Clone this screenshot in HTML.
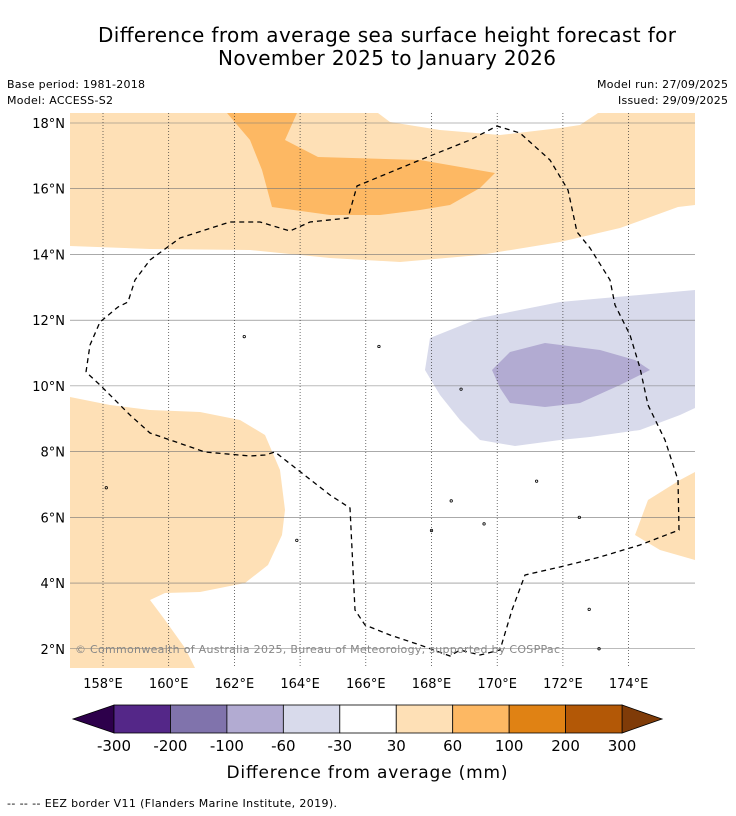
<!DOCTYPE html>
<html><head><meta charset="utf-8">
<style>
body{margin:0;background:#fff;font-family:"DejaVu Sans","Liberation Sans",sans-serif;}
svg{display:block;font-family:"DejaVu Sans","Liberation Sans",sans-serif;}
</style></head>
<body>
<svg id="chart" width="736" height="816" viewBox="0 0 736 816">
<text x="387" y="42" font-size="20" text-anchor="middle" textLength="578">Difference from average sea surface height forecast for</text>
<text x="387" y="65" font-size="20" text-anchor="middle" textLength="338">November 2025 to January 2026</text>
<text x="7" y="88" font-size="11" textLength="138">Base period: 1981-2018</text>
<text x="7" y="104" font-size="11" textLength="106">Model: ACCESS-S2</text>
<text x="728" y="88" font-size="11" text-anchor="end" textLength="131">Model run: 27/09/2025</text>
<text x="728" y="104" font-size="11" text-anchor="end" textLength="110">Issued: 29/09/2025</text>
<g id="map"></g>
<g id="cbar"></g>
<text x="367" y="778" font-size="17" text-anchor="middle" textLength="281">Difference from average (mm)</text>
<text x="7" y="807" font-size="11" textLength="330">--  --  -- EEZ border V11 (Flanders Marine Institute, 2019).</text>
</svg>
<script>
const lonTicks=[158,160,162,164,166,168,170,172,174];
const latTicks=[2,4,6,8,10,12,14,16,18];
const cbarLevels=[-300,-200,-100,-60,-30,30,60,100,200,300];
const cbarColors=["#542788","#8073ac","#b2abd2","#d8daeb","#ffffff","#fee0b6","#fdb863","#e08214","#b35806"];
const cbarLow="#2d004b", cbarHigh="#7f3b08";
const X0=70,X1=695,Y0=113,Y1=668;
function xs(lon){return 103+(lon-158)*32.85;}
function ys(lat){return 123+(18-lat)*32.86;}
function px2ll(p){return [158+(p[0]-103)/32.85, 18-(p[1]-123)/32.86];}
const regionTopLight=[[70,113],[695,113],[695,205],[678,207],[620,228],[560,242],[480,255],[400,262],[330,258],[250,250],[150,249],[70,246]].map(px2ll);
const regionTopGap=[[378,113],[390,122],[440,130],[500,135],[560,128],[580,125],[598,113]].map(px2ll);
const regionTopDark=[[227,113],[297,113],[285,140],[318,157],[420,160],[495,173],[480,188],[450,205],[420,210],[380,215],[330,215],[272,207],[262,170],[250,140]].map(px2ll);
const regionPurpleLight=[[430,338],[480,318],[560,302],[695,290],[695,408],[680,415],[640,430],[590,437],[560,440],[515,446],[480,440],[460,420],[440,395],[425,370]].map(px2ll);
const regionPurpleDark=[[492,370],[510,352],[545,343],[600,350],[635,360],[650,370],[620,385],[580,403],[545,407],[510,403],[500,388]].map(px2ll);
const regionLeftLight=[[70,397],[110,405],[150,410],[200,412],[240,420],[265,435],[280,470],[285,510],[282,535],[268,565],[245,583],[200,592],[165,593],[150,600],[165,620],[185,648],[195,668],[70,668]].map(px2ll);
const regionRightLight=[[695,472],[680,480],[648,500],[635,535],[660,550],[695,560]].map(px2ll);
const eez=[[86,372],[90,345],[100,322],[118,307],[128,302],[135,280],[150,260],[180,238],[230,222],[260,222],[290,231],[310,222],[348,218],[357,186],[420,160],[470,140],[497,126],[520,133],[550,160],[568,190],[577,232],[590,248],[610,280],[615,305],[630,335],[640,368],[648,405],[665,440],[678,480],[679,530],[640,545],[600,557],[560,567],[525,575],[512,610],[500,650],[480,655],[460,650],[450,656],[420,645],[390,635],[365,625],[355,610],[350,508],[330,495],[275,452],[265,455],[250,456],[205,452],[150,433],[130,415],[100,385],[86,372]].map(px2ll);
const islands=[[158.1,6.9],[163.9,5.3],[166.4,11.2],[168.9,9.9],[169.6,5.8],[171.2,7.1],[172.8,3.2],[173.1,2.0],[168.6,6.5],[168.0,5.6],[162.3,11.5],[172.5,6.0]];

const NS="http://www.w3.org/2000/svg";
const map=document.getElementById('map');
function mk(tag,attrs,parent){const e=document.createElementNS(NS,tag);for(const k in attrs)e.setAttribute(k,attrs[k]);parent.appendChild(e);return e;}
function pts(arr){return arr.map(p=>xs(p[0]).toFixed(1)+','+ys(p[1]).toFixed(1)).join(' ');}
const defs=mk('defs',{},map);
const cp=mk('clipPath',{id:'clip'},defs);
mk('rect',{x:X0,y:Y0,width:X1-X0,height:Y1-Y0},cp);
const g=mk('g',{'clip-path':'url(#clip)'},map);
mk('rect',{x:X0,y:Y0,width:X1-X0,height:Y1-Y0,fill:'#fff'},g);
function region(arr,fill,name){const e=mk('polygon',{points:pts(arr),fill:fill},g);

}
region(regionTopLight,cbarColors[5],'contour-30-60-north');
region(regionTopGap,'#ffffff','contour-neutral-north-gap');
region(regionTopDark,cbarColors[6],'contour-60-100-north');
region(regionPurpleLight,cbarColors[3],'contour-minus60-30');
region(regionPurpleDark,cbarColors[2],'contour-minus100-60');
region(regionLeftLight,cbarColors[5],'contour-30-60-southwest');
region(regionRightLight,cbarColors[5],'contour-30-60-southeast');
latTicks.forEach(l=>{const e=mk('line',{x1:X0,x2:X1,y1:ys(l),y2:ys(l),stroke:'#777',"stroke-width":0.6},g);

});
lonTicks.forEach(l=>{const e=mk('line',{x1:xs(l),x2:xs(l),y1:Y0,y2:Y1,stroke:'#333',"stroke-width":0.7,"stroke-dasharray":"1,2"},g);

});
islands.forEach(p=>{const e=mk('circle',{cx:xs(p[0]),cy:ys(p[1]),r:1.2,fill:'none',stroke:'#000',"stroke-width":0.8},g);

});
const ez=mk('polyline',{points:pts(eez),fill:'none',stroke:'#000',"stroke-width":1.3,"stroke-dasharray":"5,4"},g);


const cr=mk('text',{x:75,y:653,"font-size":11,fill:'#888',textLength:485},g);
cr.textContent='© Commonwealth of Australia 2025, Bureau of Meteorology, supported by COSPPac';


lonTicks.forEach(l=>{const t=mk('text',{x:xs(l),y:688,"font-size":13,"text-anchor":"middle"},map);t.textContent=l+'°E';

});
latTicks.forEach(l=>{const t=mk('text',{x:65,y:ys(l)+5,"font-size":13,"text-anchor":"end"},map);t.textContent=l+'°N';

});
const cb=document.getElementById('cbar');
const cbX0=114,cbW=56.45,cbY=705,cbH=28;
mk('polygon',{points:`73,${cbY+cbH/2} ${cbX0},${cbY} ${cbX0},${cbY+cbH}`,fill:cbarLow,stroke:'#000',"stroke-width":0.8},cb);
const endX=cbX0+cbW*cbarColors.length;
mk('polygon',{points:`${endX+40},${cbY+cbH/2} ${endX},${cbY} ${endX},${cbY+cbH}`,fill:cbarHigh,stroke:'#000',"stroke-width":0.8},cb);
cbarColors.forEach((c,i)=>{const r=mk('rect',{x:cbX0+i*cbW,y:cbY,width:cbW,height:cbH,fill:c,stroke:'#000',"stroke-width":0.8},cb);

});
cbarLevels.forEach((v,i)=>{const t=mk('text',{x:cbX0+i*cbW,y:751,"font-size":15,"text-anchor":"middle"},cb);t.textContent=v;

});
</script>
</body></html>
